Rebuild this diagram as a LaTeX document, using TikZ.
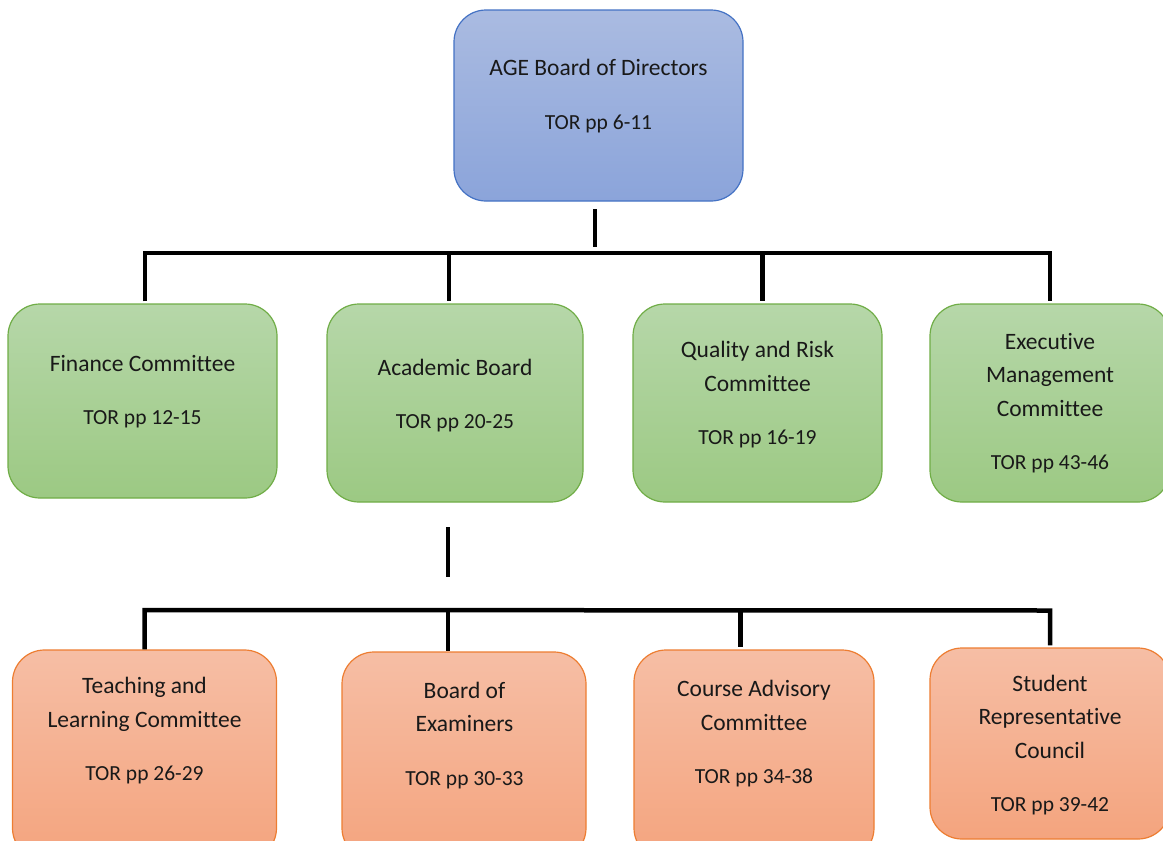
\documentclass[tikz,border=0pt]{standalone}
\usepackage{fontspec}
\setmainfont{Carlito}[Ligatures=NoCommon]
\usepackage{xcolor}
\usepackage{tikz}
\usetikzlibrary{positioning}

\definecolor{blueline}{HTML}{4472C4}
\definecolor{bluetop}{HTML}{AABBE1}
\definecolor{bluebot}{HTML}{8BA4DA}
\definecolor{greenline}{HTML}{70AD47}
\definecolor{greentop}{HTML}{B6D7A9}
\definecolor{greenbot}{HTML}{9CC983}
\definecolor{orangeline}{HTML}{ED7D31}
\definecolor{orangetop}{HTML}{F6BEA5}
\definecolor{orangebot}{HTML}{F4A47E}

\newcommand{\torpp}[1]{{\fontsize{21.5}{33.5}\selectfont TOR pp #1}}

\begin{document}
\begin{tikzpicture}[
    x = 1pt, y = -1pt,
    box/.style = {rounded corners=32pt, line width=1.2pt, inner sep=0pt},
    bluebox/.style = {box, draw=blueline, top color=bluetop, bottom color=bluebot},
    greenbox/.style = {box, draw=greenline, top color=greentop, bottom color=greenbot},
    orangebox/.style = {box, draw=orangeline, top color=orangetop, bottom color=orangebot},
    txt/.style = {align=center, inner sep=0pt, text=black!90, font=\fontsize{23.5}{33.5}\selectfont},
    link/.style = {line width=4.5pt, black}]
    \useasboundingbox (0,0) rectangle (1163,841);

    \node[bluebox, minimum width=289pt, minimum height=191pt] (board) at (598.5,105.5) {};
    \node[txt] (board-t) at (598.5,96) {AGE Board of Directors\\[20pt]\torpp{6-11}};

    \node[greenbox, minimum width=269pt, minimum height=194pt] (fin) at (142.5,401) {};
    \node[greenbox, minimum width=256pt, minimum height=198pt] (acad) at (455,403) {};
    \node[greenbox, minimum width=249pt, minimum height=198pt] (qual) at (757.5,403) {};
    \node[greenbox, minimum width=240pt, minimum height=198pt] (exec) at (1050,403) {};
    \node[txt] (fin-t) at (142.5,391.5) {Finance Committee\\[20pt]\torpp{12-15}};
    \node[txt] (acad-t) at (455,395.5) {Academic Board\\[20pt]\torpp{20-25}};
    \node[txt] (qual-t) at (757.5,395) {Quality and Risk\\Committee\\[20pt]\torpp{16-19}};
    \node[txt] (exec-t) at (1050,403) {Executive\\Management\\Committee\\[20pt]\torpp{43-46}};

    \node[orangebox, minimum width=264pt, minimum height=210pt] (teach) at (144.5,755) {};
    \node[orangebox, minimum width=244pt, minimum height=208pt] (exam) at (464,756) {};
    \node[orangebox, minimum width=240pt, minimum height=210pt] (course) at (754,755) {};
    \node[orangebox, minimum width=240pt, minimum height=191pt] (student) at (1050,743.5) {};
    \node[txt] (teach-t) at (144.5,731) {Teaching and\\Learning Committee\\[20pt]\torpp{26-29}};
    \node[txt] (exam-t) at (464.5,735.5) {Board of\\Examiners\\[20pt]\torpp{30-33}};
    \node[txt] (course-t) at (754,734) {Course Advisory\\Committee\\[20pt]\torpp{34-38}};
    \node[txt] (student-t) at (1050,745) {Student\\Representative\\Council\\[20pt]\torpp{39-42}};

    \coordinate (top-a) at (595,209);
    \coordinate (top-b) at (595,247);
    \coordinate (j1) at (145,253);
    \coordinate (j2) at (449,253);
    \coordinate (j3) at (762.5,253);
    \coordinate (j4) at (1050,253);
    \coordinate (mid-a) at (448,527);
    \coordinate (mid-b) at (448,577);
    \coordinate (k1) at (144.5,610);
    \coordinate (k2) at (448,610);
    \coordinate (k3) at (740.5,610);
    \coordinate (k4) at (1050,610.5);

    \draw[link] (top-a) -- (top-b);
    \draw[link] ([yshift=2pt]j1 |- fin.north) -- (j1) -- (j4) -- ([yshift=2pt]j4 |- exec.north);
    \draw[link] (j2) -- ([yshift=2pt]j2 |- acad.north);
    \draw[link] (j3) -- ([yshift=2pt]j3 |- qual.north);

    \draw[link] (mid-a) -- (mid-b);
    \draw[link] (k1 |- teach.north) -- (k1) -- (k4) -- ([yshift=2pt]k4 |- student.north);
    \draw[link] (k2) -- (k2 |- exam.north);
    \draw[link] (k3) -- ([yshift=2pt]k3 |- course.north);
\end{tikzpicture}
\end{document}
